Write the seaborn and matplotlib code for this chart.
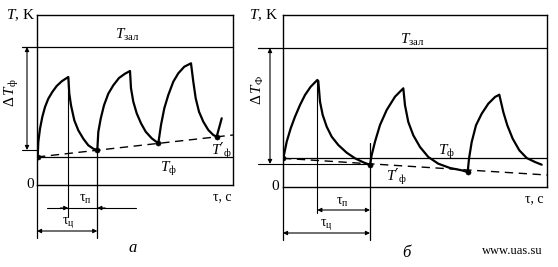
import matplotlib
matplotlib.use("Agg")
import matplotlib.pyplot as plt
import seaborn as sns
import pandas as pd

# ---------------- data ----------------
# panel "а": time (arb. units) and temperature (arb. units)
a_tau = [0.7, 1.3, 3, 5.3, 8, 11.3, 15.3, 19.7, 24.7, 29.7, 31.3,
         32.3, 34, 37.3, 41.3, 46.3, 51.3, 56.3, 60.3,
         61.3, 63.7, 67, 71.3, 76.3, 82, 88, 93,
         94, 96.3, 99.7, 104, 108.7, 114.7, 121.3,
         124, 127.3, 131.3, 136.3, 141.3, 147.3, 154,
         156.3, 158.7, 162, 166.3, 171.3, 176.3, 179.7,
         184.7]
a_temp = [28, 43, 56.3, 68, 78, 86.3, 93, 99, 103.7, 107, 108,
          91.3, 79.7, 64.7, 54.7, 46.3, 39.7, 36.3, 34.7,
          53, 66.3, 79.7, 91.3, 99.7, 107, 111.3, 114,
          96.7, 83.3, 71.7, 61.7, 53.3, 46.7, 41.7,
          60, 76.7, 90, 103.3, 111.7, 118.3, 121.7,
          103.3, 86.7, 73.3, 63.3, 55, 50, 48.3,
          66.7]
a_dot_tau = [0.7, 60.3, 121.3, 179.7]
a_dot_temp = [28, 34.7, 41.7, 48.3]
a_trend_tau = [0, 196]
a_trend_temp = [28, 50]
a_T_zal, a_T_f, a_dT_low = 138, 28, 35
a_tau_p = [31.3, 60.3]
a_tau_c = [0, 60.3]

# panel "б"
b_tau = [0.3, 3.7, 7.7, 12, 17, 22, 27.7, 34.3,
         35.3, 37, 39.7, 43.7, 48.7, 55.3, 63.7, 72, 80.3, 87,
         88.7, 92, 97, 103.7, 112, 120.3,
         122, 125.3, 130.3, 137, 145.3, 155.3, 167, 178.7, 184.7,
         186, 188.7, 193, 198.7, 205.3, 212, 216.3,
         220.3, 224.3, 229.7, 236.3, 243.7, 252, 258.7]
b_temp = [28.7, 45.3, 58.7, 70.3, 82, 92, 100.3, 107,
          106, 85.3, 72, 60.3, 50.3, 42, 34.3, 28.7, 24.7, 22,
          32, 45.3, 62, 77, 90.3, 98.7,
          81.7, 65, 51.7, 40, 30, 23.3, 19, 16.7, 15,
          28.3, 45, 61.7, 73.3, 83.3, 90, 92.3,
          75, 61.7, 48.3, 36.7, 29, 25, 22.3]
b_dot_tau = [0.3, 87, 184.7]
b_dot_temp = [28.7, 22, 15]
b_trend_tau = [0, 264]
b_trend_temp = [28.7, 12]
b_T_zal, b_T_f, b_dT_low = 139, 28.7, 23
b_tau_p = [34.3, 87]
b_tau_c = [0, 87]

# ---------------- style ----------------
sns.set_style("white")
plt.rcParams["font.family"] = ["Liberation Serif", "DejaVu Serif"]
plt.rcParams["mathtext.fontset"] = "custom"
plt.rcParams["mathtext.rm"] = "Liberation Serif"
plt.rcParams["mathtext.it"] = "Liberation Serif:italic"
plt.rcParams["mathtext.bf"] = "Liberation Serif:bold"
plt.rcParams["mathtext.sf"] = "DejaVu Sans"

fig = plt.figure(figsize=(5.58, 2.67), dpi=100)
fig.patch.set_facecolor("white")
W, H = 558, 267

K = "black"
FS = 11


def make_ax(x0, y0, w, h):
    ax = fig.add_axes([x0 / W, 1 - y0 / H, w / W, h / H])
    ax.set_xlim(0, w)
    ax.set_ylim(0, h)
    ax.set_xticks([])
    ax.set_yticks([])
    ax.set_facecolor("none")
    for s in ax.spines.values():
        s.set_visible(True)
        s.set_color(K)
        s.set_linewidth(1.0)
    return ax


def arrow(ax, start, end, style="-|>"):
    ax.annotate("", xy=end, xytext=start, annotation_clip=False,
                arrowprops=dict(arrowstyle=style, color=K, lw=0.8,
                                mutation_scale=6, shrinkA=0, shrinkB=0))


def panel(ax, tau, temp, dtau, dtemp, ttau, ttemp, Tz, Tf, dTlow, tp, tc,
          opt):
    w = ax.get_xlim()[1]
    df = pd.DataFrame({"tau": tau, "T": temp})
    sns.lineplot(data=df, x="tau", y="T", sort=False, estimator=None,
                 color=K, lw=1.6, ax=ax)
    sns.lineplot(x=ttau, y=ttemp, sort=False, estimator=None, color=K,
                 lw=1.0, linestyle=(0, (6, 4)), ax=ax)
    sns.scatterplot(x=dtau, y=dtemp, color=K, s=14, edgecolor=K,
                    zorder=5, ax=ax)
    # horizontal reference lines
    ax.plot([opt["zal_x0"], w], [Tz, Tz], color=K, lw=0.9, clip_on=False)
    ax.plot([0, w], [Tf, Tf], color=K, lw=0.9, clip_on=False)
    ax.plot([opt["low_x0"], opt["low_x1"]], [dTlow, dTlow], color=K, lw=0.8,
            clip_on=False)
    # Delta T arrow
    arrow(ax, (opt["dT_x"], dTlow), (opt["dT_x"], Tz), "<|-|>")
    # vertical markers
    ax.plot([0, 0], [0, -53], color=K, lw=0.9, clip_on=False)
    ax.plot([tp[0], tp[0]], [opt["v1_top"], opt["v1_bot"]], color=K, lw=0.8,
            clip_on=False)
    ax.plot([tp[1], tp[1]], [opt["v2_top"], -53], color=K, lw=0.9,
            clip_on=False)
    # tau_p and tau_c dimensions
    yp, yc = -23, -46
    if opt["outside"]:
        ax.plot([tp[0] - 21, tp[1] + 39], [yp, yp], color=K, lw=0.8,
                clip_on=False)
        arrow(ax, (tp[0] - 8, yp), (tp[0], yp))
        arrow(ax, (tp[1] + 8, yp), (tp[1], yp))
    else:
        arrow(ax, (tp[0], yp), (tp[1], yp), "<|-|>")
    arrow(ax, (tc[0], yc), (tc[1], yc), "<|-|>")


kw = dict(ha="center", va="center", fontsize=FS, color=K)
kws = {**kw, "fontsize": 10}
TPRIME = r"$T\mathsf{\prime}_{\mathrm{ф}}$"

# ---------------- panel а ----------------
axa = make_ax(37, 185, 196, 170)
panel(axa, a_tau, a_temp, a_dot_tau, a_dot_temp, a_trend_tau, a_trend_temp,
      a_T_zal, a_T_f, a_dT_low, a_tau_p, a_tau_c,
      {"outside": True, "zal_x0": -15, "low_x0": -15, "low_x1": 0,
       "dT_x": -10, "v1_top": 108, "v1_bot": -32, "v2_top": a_dot_temp[1]})
axa.text(-16, 170, "$T$, K", clip_on=False, **kw)
axa.text(-7, 0, "0", clip_on=False, **kw)
axa.text(90, 150, r"$T_{\mathrm{зал}}$", **kw)
axa.text(131, 16, r"$T_{\mathrm{ф}}$", **kw)
axa.text(184, 34, TPRIME, **kw)
axa.text(-25, 92, r"$\Delta\,T_{\mathrm{ф}}$", rotation=90, clip_on=False, **kw)
axa.text(185, -12, "τ, с", clip_on=False, **kws)
axa.text(48, -14, r"τ$_{\mathrm{п}}$", clip_on=False, **kws)
axa.text(31, -38, r"τ$_{\mathrm{ц}}$", clip_on=False, **kws)
axa.text(96, -63, "а", style="italic", clip_on=False,
         **{**kw, "fontsize": 12})

# ---------------- panel б ----------------
axb = make_ax(283, 187, 264, 172)
panel(axb, b_tau, b_temp, b_dot_tau, b_dot_temp, b_trend_tau, b_trend_temp,
      b_T_zal, b_T_f, b_dT_low, b_tau_p, b_tau_c,
      {"outside": False, "zal_x0": -25, "low_x0": -25, "low_x1": b_tau_p[1],
       "dT_x": -13, "v1_top": 107, "v1_bot": -26, "v2_top": 44})
axb.text(-19, 172, "$T$, K", clip_on=False, **kw)
axb.text(-8, 0, "0", clip_on=False, **kw)
axb.text(129, 147, r"$T_{\mathrm{зал}}$", **kw)
axb.text(163, 35, r"$T_{\mathrm{ф}}$", **kw)
axb.text(113, 10, TPRIME, **kw)
axb.text(-25, 97, r"$\Delta\,T_{\mathrm{Ф}}$", rotation=90, clip_on=False, **kw)
axb.text(251, -12, "τ, с", clip_on=False, **kws)
axb.text(59, -15, r"τ$_{\mathrm{п}}$", clip_on=False, **kws)
axb.text(43, -38, r"τ$_{\mathrm{ц}}$", clip_on=False, **kws)
axb.text(123, -66, "б", style="italic", clip_on=False,
         **{**kw, "fontsize": 12})
axb.text(229, -64, "www.uas.su", clip_on=False, **{**kw, "fontsize": 9})

fig.savefig("out.png", dpi=100, facecolor="white")
